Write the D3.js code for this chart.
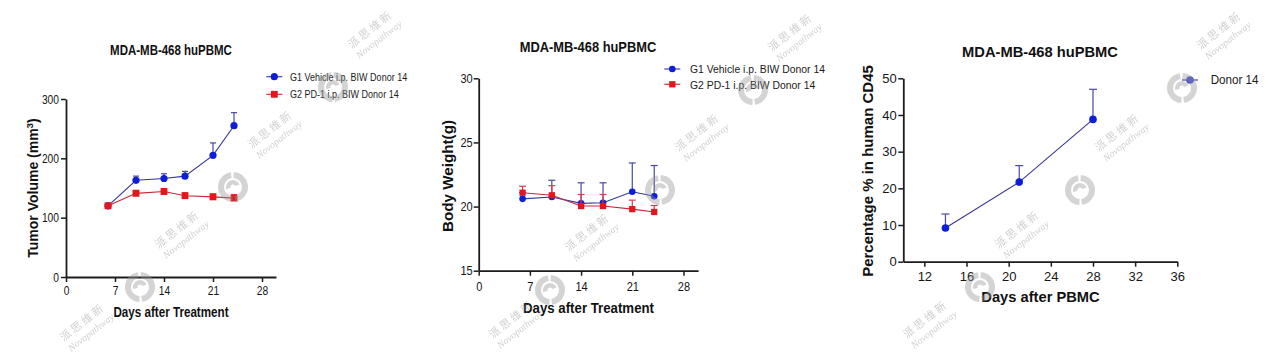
<!DOCTYPE html>
<html><head><meta charset="utf-8">
<script src="https://cdn.jsdelivr.net/npm/d3@7/dist/d3.min.js"></script>
<style>html,body{margin:0;padding:0;background:#fff;}svg{display:block;}</style>
</head><body>
<svg id="c" width="1280" height="357"></svg>
<script>
// ---------- DATA ----------
const title = "MDA-MB-468 huPBMC";
const treatDays = [6, 10, 14, 17, 21, 24];
const tumorG1 = [120, 163, 166, 170, 205, 255];
const tumorG1Err = [3, 7, 8, 8, 21, 22];
const tumorG2 = [120, 141, 144, 137, 135, 133];
const tumorG2Err = [4, 5, 5, 5, 5, 6];
const weightG1 = [20.6, 20.75, 20.25, 20.3, 21.15, 20.8];
const weightG1Err = [0.5, 1.3, 1.6, 1.55, 2.25, 2.4];
const weightG2 = [21.08, 20.88, 20.04, 20.04, 19.8, 19.58];
const weightG2Err = [0.5, 0.75, 0.9, 0.9, 0.7, 0.5];
const pbmcDays = [14, 21, 28];
const cd45 = [9.2, 21.7, 38.8];
const cd45Err = [3.8, 4.5, 8.2];
const dayTicks = [0, 7, 14, 21, 28];
const tumorTicks = [0, 100, 200, 300];
const weightTicks = [15, 20, 25, 30];
const cd45Ticks = [0, 10, 20, 30, 40, 50];
const pbmcTicks = [12, 16, 20, 24, 28, 32, 36];
const legendG1 = "G1 Vehicle i.p. BIW Donor 14";
const legendG2 = "G2 PD-1 i.p. BIW Donor 14";
const legendDonor = "Donor 14";

// ---------- STYLE ----------
const FONT = "'Liberation Sans', Arial, sans-serif";
const BLUE = "#0d1ed8", BLUE_LINE = "#35359c", BLUE_ERR = "#4848a6";
const RED = "#e3161c", RED_LINE = "#c8283a", RED_ERR = "#d0404c";
const AX = "#1c1c1c";

const svg = d3.select("#c");

function txt(g, x, y, s, o) {
  const t = g.append("text")
    .attr("transform", `translate(${x},${y})` + (o.rot ? ` rotate(${o.rot})` : "") + ` scale(${o.sx || 1},1)`)
    .attr("font-family", o.family || FONT)
    .attr("font-size", o.size)
    .attr("font-weight", o.weight || "normal")
    .attr("text-anchor", o.anchor || "start")
    .attr("fill", o.fill || "#111");
  if (s !== null) t.text(s);
  return t;
}

function chart(cfg) {
  const g = svg.append("g");
  const x = d3.scaleLinear().domain(cfg.xd).range(cfg.xr);
  const y = d3.scaleLinear().domain(cfg.yd).range(cfg.yr);
  const ya = g.append("g").attr("transform", `translate(${cfg.xr[0]},0)`)
    .call(d3.axisLeft(y).tickValues(cfg.yTicks).tickSize(cfg.tick).tickSizeOuter(0).tickPadding(cfg.yPad));
  const xa = g.append("g").attr("transform", `translate(0,${cfg.yr[0]})`)
    .call(d3.axisBottom(x).tickValues(cfg.xTicks).tickSize(cfg.tick).tickSizeOuter(0).tickPadding(cfg.xPad));
  [ya, xa].forEach(a => {
    a.select(".domain").attr("stroke", AX).attr("stroke-width", 1.8);
    a.selectAll(".tick line").attr("stroke", AX).attr("stroke-width", 1.5);
    a.selectAll(".tick text").attr("font-family", FONT).attr("font-size", cfg.tickSize).attr("fill", "#151515");
  });
  ya.selectAll(".tick text").attr("transform", `scale(${cfg.sx},1)`).attr("x", -(cfg.tick + cfg.yPad) / cfg.sx);
  xa.selectAll(".tick text").attr("transform", `scale(${cfg.sx},1)`);

  cfg.series.forEach(s => {
    const pts = s.days.map((d, i) => ({ d, v: s.vals[i], e: s.err[i] }));
    const eg = g.append("g").attr("stroke", s.errColor).attr("stroke-width", 1.2).attr("fill", "none");
    pts.forEach(p => {
      eg.append("line").attr("x1", x(p.d)).attr("x2", x(p.d)).attr("y1", y(p.v)).attr("y2", y(p.v + p.e));
      eg.append("line").attr("x1", x(p.d) - cfg.cap).attr("x2", x(p.d) + cfg.cap).attr("y1", y(p.v + p.e)).attr("y2", y(p.v + p.e));
    });
    g.append("path").datum(pts)
      .attr("d", d3.line().x(p => x(p.d)).y(p => y(p.v)))
      .attr("fill", "none").attr("stroke", s.line).attr("stroke-width", 1.1);
    pts.forEach(p => marker(g, s.shape, x(p.d), y(p.v), cfg.ms, s.color));
  });

  txt(g, cfg.title[0], cfg.title[1], title, { size: cfg.titleSize, weight: "bold", anchor: "middle", sx: cfg.tsx });
  txt(g, cfg.xl[0], cfg.xl[1], cfg.xLabel, { size: cfg.labSize, weight: "bold", anchor: "middle", sx: cfg.tsx });
  const yl = txt(g, cfg.yl[0], cfg.yl[1], cfg.yLabel, { size: cfg.yLabSize, weight: "bold", anchor: "middle", rot: -90 });
  if (cfg.sup) {
    yl.append("tspan").attr("dy", -5).attr("font-size", cfg.yLabSize * 0.7).text("3");
    yl.append("tspan").attr("dy", 5).text(")");
  }
  cfg.legend.forEach(l => {
    g.append("line").attr("x1", l.x - 8).attr("x2", l.x + 8).attr("y1", l.y).attr("y2", l.y)
      .attr("stroke", l.line).attr("stroke-width", 1.1);
    marker(g, l.shape, l.x, l.y, cfg.ms, l.color);
    txt(g, l.tx, l.ty, l.text, { size: cfg.legSize, sx: cfg.lsx, fill: "#1a1a1a" });
  });
}

function marker(g, shape, cx, cy, r, color) {
  if (shape === "circle") g.append("circle").attr("cx", cx).attr("cy", cy).attr("r", r).attr("fill", color);
  else g.append("rect").attr("x", cx - r * 0.95).attr("y", cy - r * 0.95).attr("width", r * 1.9).attr("height", r * 1.9).attr("fill", color);
}

chart({
  xd: [0, 30], xr: [66, 276], yd: [0, 300], yr: [277, 99],
  xTicks: dayTicks, yTicks: tumorTicks, tick: 5, yPad: 2, xPad: 4.5, tickSize: 12.5, sx: 0.82,
  cap: 3, ms: 3.6,
  series: [
    { days: treatDays, vals: tumorG1, err: tumorG1Err, color: BLUE, line: BLUE_LINE, errColor: BLUE_ERR, shape: "circle" },
    { days: treatDays, vals: tumorG2, err: tumorG2Err, color: RED, line: RED_LINE, errColor: RED_ERR, shape: "square" }
  ],
  title: [171, 55], titleSize: 14, tsx: 0.82,
  xl: [171, 317], xLabel: "Days after Treatment", labSize: 14.2,
  yl: [37.5, 188], yLabel: "Tumor Volume (mm", yLabSize: 14, sup: true,
  legSize: 11, lsx: 0.82,
  legend: [
    { x: 274.3, y: 76.7, tx: 290, ty: 81, text: legendG1, color: BLUE, line: BLUE_LINE, shape: "circle" },
    { x: 274.3, y: 94.3, tx: 290, ty: 98.3, text: legendG2, color: RED, line: RED_LINE, shape: "square" }
  ]
});

chart({
  xd: [0, 30], xr: [478.7, 698.1], yd: [15, 30], yr: [270.7, 78.3],
  xTicks: dayTicks, yTicks: weightTicks, tick: 5, yPad: 1, xPad: 7, tickSize: 12, sx: 0.92,
  cap: 3.5, ms: 3.3,
  series: [
    { days: treatDays, vals: weightG1, err: weightG1Err, color: BLUE, line: BLUE_LINE, errColor: BLUE_ERR, shape: "circle" },
    { days: treatDays, vals: weightG2, err: weightG2Err, color: RED, line: RED_LINE, errColor: RED_ERR, shape: "square" }
  ],
  title: [588, 51.7], titleSize: 14, tsx: 0.92,
  xl: [588.5, 313], xLabel: "Days after Treatment", labSize: 14.4,
  yl: [453, 176], yLabel: "Body Weight(g)", yLabSize: 15.2,
  legSize: 11.8, lsx: 0.88,
  legend: [
    { x: 672.3, y: 69, tx: 690, ty: 73.3, text: legendG1, color: BLUE, line: BLUE_LINE, shape: "circle" },
    { x: 672.3, y: 84.3, tx: 690, ty: 88.7, text: legendG2, color: RED, line: RED_LINE, shape: "square" }
  ]
});

chart({
  xd: [10, 36], xr: [903.3, 1177.3], yd: [0, 50], yr: [261.7, 78.3],
  xTicks: pbmcTicks, yTicks: cd45Ticks, tick: 5, yPad: 1.6, xPad: 5, tickSize: 13, sx: 1,
  cap: 4, ms: 3.8,
  series: [
    { days: pbmcDays, vals: cd45, err: cd45Err, color: BLUE, line: BLUE_LINE, errColor: BLUE_ERR, shape: "circle" }
  ],
  title: [1040, 56.7], titleSize: 15, tsx: 0.98,
  xl: [1040.5, 301.7], xLabel: "Days after PBMC", labSize: 15,
  yl: [873, 171], yLabel: "Percentage % in human CD45", yLabSize: 15,
  legSize: 12, lsx: 0.97,
  legend: [
    { x: 1190, y: 80, tx: 1210.7, ty: 84, text: legendDonor, color: "#3f46d0", line: BLUE_LINE, shape: "circle" }
  ]
});

// ---------- watermarks ----------
const wmLogos = [[140, 287], [233, 187], [333, 87], [550, 290], [660, 190], [753, 90], [980, 287], [1080, 190], [1182, 88], [45, 380], [474, 377], [888, 377]];
const wm = svg.append("g").attr("opacity", 0.42).attr("pointer-events", "none");
const arc = d3.arc();
wmLogos.forEach(([lx, ly]) => {
  const lg = wm.append("g").attr("transform", `translate(${lx},${ly}) rotate(-40)`).attr("fill", "#9a9a9a");
  lg.append("path").attr("d", arc({ innerRadius: 9, outerRadius: 15, startAngle: -2.4, endAngle: 0.55 }));
  lg.append("path").attr("d", arc({ innerRadius: 9, outerRadius: 15, startAngle: 0.75, endAngle: 3.7 }));
  lg.append("path").attr("d", arc({ innerRadius: 2.5, outerRadius: 7, startAngle: -1.2, endAngle: 1.9 }));
  txt(wm, lx + 39, ly - 54, "派 思 维 新", { size: 11, anchor: "middle", rot: -38, family: "'Noto Sans CJK SC', sans-serif", fill: "#8f8f8f" });
  txt(wm, lx + 48, ly - 45, "Novopathway", { size: 10, anchor: "middle", rot: -38, family: "'Liberation Serif', serif", fill: "#8f8f8f" })
    .attr("font-style", "italic");
});
</script>
</body></html>
